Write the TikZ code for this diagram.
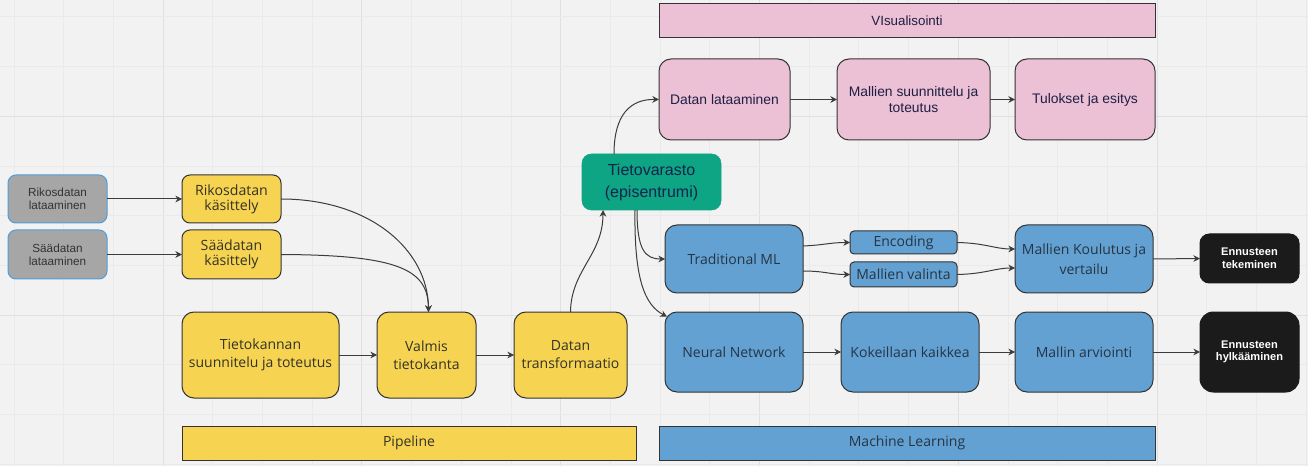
\documentclass[tikz,border=0pt]{standalone}
\usepackage{fontspec}
\setmainfont{Open Sans}
\newfontfamily\arialf{Liberation Sans}
\usetikzlibrary{arrows.meta,calc}
\definecolor{bg}{HTML}{F2F2F2}
\definecolor{gridmin}{HTML}{EAEAEA}
\definecolor{gridmaj}{HTML}{E0E0E0}
\definecolor{bdr}{HTML}{333333}
\definecolor{yel}{HTML}{F7D352}
\definecolor{blu}{HTML}{62A1D1}
\definecolor{pnk}{HTML}{ECC1D5}
\definecolor{grn}{HTML}{0EA584}
\definecolor{gry}{HTML}{A6A6A6}
\definecolor{gbdr}{HTML}{4C9EE0}
\definecolor{blk}{HTML}{1B1B1B}
\definecolor{arrc}{HTML}{3C3C3C}
\definecolor{ytxt}{HTML}{333326}
\definecolor{btxt}{HTML}{263545}
\definecolor{ptxt}{HTML}{1E1E46}
\definecolor{gtxt}{HTML}{14234A}
\newcommand\bx[7]{\node[#6,minimum width={(#4-#2)*0.75pt},minimum height={(#5-#3)*0.75pt}] (#1) at ({(#2+#4)/2},{(#3+#5)/2}) {#7};}
\begin{document}
\begin{tikzpicture}[x=0.75pt,y=-0.75pt,
  base/.style={draw=bdr,line width=0.75pt,inner sep=0pt,outer sep=0pt,align=center},
  mainf/.style={font=\fontsize{10.5}{13.5}\selectfont},
  ybox/.style={base,fill=yel,text=ytxt,rounded corners=9pt,mainf},
  ysmall/.style={base,fill=yel,text=ytxt,rounded corners=6pt,font=\fontsize{10.6}{11.5}\selectfont},
  bbox/.style={base,fill=blu,text=btxt,rounded corners=9pt,mainf},
  bsmall/.style={base,fill=blu,text=btxt,rounded corners=3pt,mainf},
  pbox/.style={base,fill=pnk,text=ptxt,rounded corners=9pt,font=\arialf\fontsize{10.4}{12.5}\selectfont},
  band/.style={base,mainf},
  gbox/.style={draw=gbdr,line width=0.75pt,inner sep=0pt,outer sep=0pt,align=center,fill=gry,text=black!80,rounded corners=6pt,font=\arialf\fontsize{8.8}{9.5}\selectfont},
  kbox/.style={base,draw=blk,fill=blk,text=white,rounded corners=7pt,font=\arialf\bfseries\fontsize{8.3}{9.5}\selectfont},
  tvbox/.style={draw=grn,fill=grn,text=gtxt,inner sep=0pt,outer sep=0pt,align=center,rounded corners=7pt,font=\arialf\fontsize{12}{16.5}\selectfont},
  arr/.style={draw=arrc,line width=0.75pt,-{Stealth[length=5pt,width=5pt]}}
]
\useasboundingbox (0,0) rectangle (1308,466);
\fill[bg] (0,0) rectangle (1308,466);
% grid
\foreach \k in {0,...,26}{
  \pgfmathsetmacro\gx{14+49.7*\k}
  \pgfmathtruncatemacro\m{mod(\k,4)}
  \ifnum\m=3 \draw[gridmaj,line width=0.75pt] (\gx,0) -- (\gx,466);
  \else \draw[gridmin,line width=0.75pt] (\gx,0) -- (\gx,466); \fi
}
\foreach \k in {0,...,9}{
  \pgfmathsetmacro\gy{17+49.7*\k}
  \pgfmathtruncatemacro\m{mod(\k,4)}
  \ifnum\m=2 \draw[gridmaj,line width=0.75pt] (0,\gy) -- (1308,\gy);
  \else \draw[gridmin,line width=0.75pt] (0,\gy) -- (1308,\gy); \fi
}
% left part
\bx{rl}{8}{175}{107}{223}{gbox}{Rikosdatan\\lataaminen}
\bx{sl}{8}{230}{107}{279}{gbox}{Säädatan\\lataaminen}
\bx{rk}{182}{175}{281}{223}{ysmall}{Rikosdatan\\käsittely}
\bx{sk}{182}{230}{281}{279}{ysmall}{Säädatan\\käsittely}
\bx{tk}{182}{312}{339}{398}{ybox}{Tietokannan\\suunnitelu ja toteutus}
\bx{vt}{377}{312}{476}{398}{ybox}{Valmis\\tietokanta}
\bx{dt}{514}{312}{627}{398}{ybox}{Datan\\transformaatio}
\bx{pl}{182}{426}{636}{460}{band,fill=yel,text=ytxt}{Pipeline}
% centre
\bx{tv}{582}{154}{721}{210}{tvbox}{Tietovarasto\\(episentrumi)}
% visualisation
\bx{vis}{659}{4}{1155}{38}{band,fill=pnk,text=ptxt,font=\arialf\fontsize{10}{12}\selectfont}{VIsualisointi}
\bx{dl}{659}{59}{790}{140}{pbox}{Datan lataaminen}
\bx{ms}{837}{59}{990}{140}{pbox}{Mallien suunnittelu ja\\toteutus}
\bx{te}{1015}{59}{1155}{140}{pbox}{Tulokset ja esitys}
% machine learning
\bx{tml}{665}{225}{803}{293}{bbox}{Traditional ML}
\bx{enc}{850}{231}{957}{254}{bsmall}{Encoding}
\bx{mv}{850}{262}{957}{287}{bsmall}{Mallien valinta}
\bx{mk}{1015}{225}{1153}{293}{bbox,font=\fontsize{10.5}{15}\selectfont}{Mallien Koulutus ja\\vertailu}
\bx{et}{1200}{234}{1299}{283}{kbox}{Ennusteen\\tekeminen}
\bx{nn}{665}{312}{803}{392}{bbox}{Neural Network}
\bx{kk}{841}{312}{979}{392}{bbox}{Kokeillaan kaikkea}
\bx{ma}{1015}{312}{1153}{392}{bbox}{Mallin arviointi}
\bx{eh}{1200}{312}{1299}{392}{kbox,rounded corners=10pt}{Ennusteen\\hylkääminen}
\bx{ml}{659}{426}{1155}{460}{band,fill=blu,text=btxt}{Machine Learning}
% connectors
\draw[arr] (rl.east) -- (rk.west);
\draw[arr] (sl.east) -- (sk.west);
\draw[arr] (rk.east) .. controls (370,199) and (428,250) .. ([xshift=1.5pt]vt.north);
\draw[arr] (sk.east) .. controls (400,255) and (428,270) .. ([xshift=1.5pt]vt.north);
\draw[arr] (tk.east) -- (vt.west);
\draw[arr] (vt.east) -- (dt.west);
\draw[arr] (dt.north) .. controls (571,270) and (603,255) .. ([xshift=15.75pt]tv.south west);
\draw[arr] ([xshift=24pt]tv.north west) .. controls (614,115) and (630,99) .. (dl.west);
\draw[arr] ([xshift=41.25pt]tv.south west) .. controls (637,250) and (645,259) .. (tml.west);
\draw[arr] ([xshift=39.75pt]tv.south west) .. controls (634,280) and (645,305) .. ([shift={(1.5pt,-3.5pt)}]nn.north west);
\draw[arr] (dl.east) -- (ms.west);
\draw[arr] (ms.east) -- (te.west);
\draw[arr] ([yshift=9.75pt]tml.east) .. controls (825,245) and (830,242.5) .. (enc.west);
\draw[arr] ([yshift=-9pt]tml.east) .. controls (825,271) and (830,274.5) .. (mv.west);
\draw[arr] (enc.east) .. controls (985,243) and (995,249) .. ([yshift=7.5pt]mk.west);
\draw[arr] (mv.east) .. controls (985,274) and (995,268) .. ([yshift=-6.75pt]mk.west);
\draw[arr] (mk.east) -- (et.west);
\draw[arr] (nn.east) -- (kk.west);
\draw[arr] (kk.east) -- (ma.west);
\draw[arr] (ma.east) -- (eh.west);
\end{tikzpicture}
\end{document}
